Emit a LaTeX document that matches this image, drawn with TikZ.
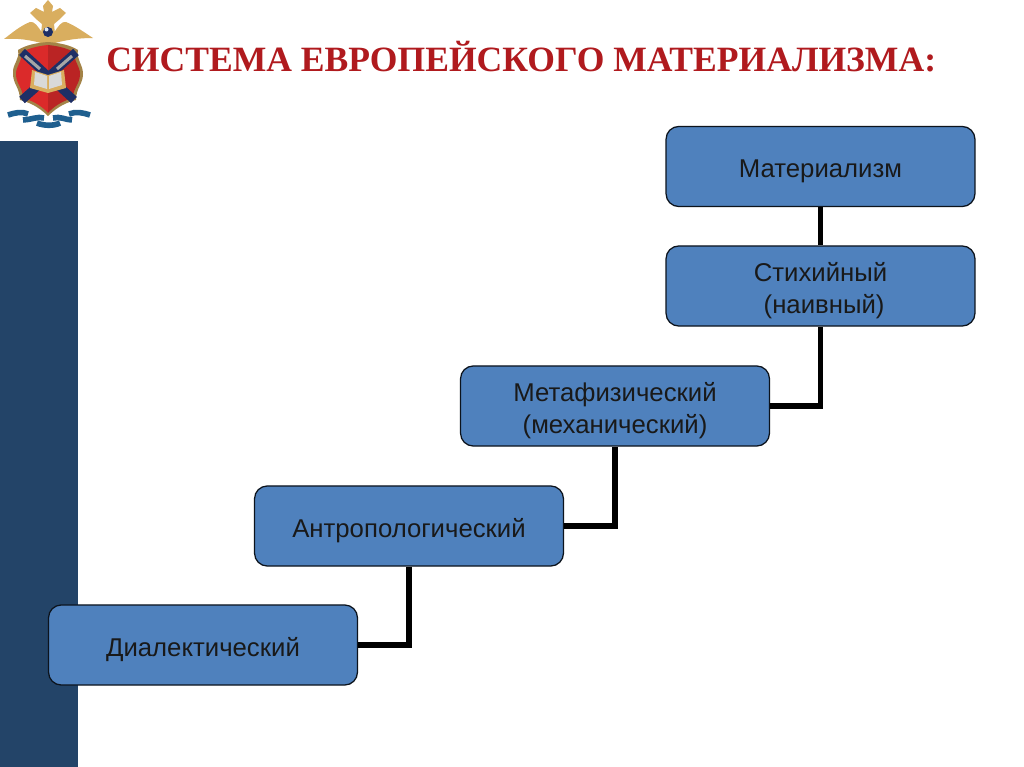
\documentclass[tikz,border=0pt]{standalone}
\usepackage{fontspec}
\setmainfont{Liberation Sans}
\newfontfamily\titlefont{Liberation Serif}
\usepackage{xcolor}
\usetikzlibrary{positioning,calc}
\definecolor{boxblue}{HTML}{4F81BD}
\definecolor{barblue}{HTML}{234468}
\definecolor{titlered}{HTML}{B01A1E}
\definecolor{eaglegold}{HTML}{D9AE5F}
\definecolor{shieldred}{HTML}{DB2A2A}
\definecolor{ribbonblue}{HTML}{1F5F8F}
\definecolor{swordblue}{HTML}{1E2F66}
\newcommand{\lvldown}{\rule{0pt}{20pt}}
\tikzset{
  levelbox/.style={draw=black!85!boxblue, line width=0.9pt, fill=boxblue, rounded corners=9pt,
    minimum width=7.72cm, minimum height=2cm, align=center, font=\fontsize{18.3}{23}\selectfont, text=black!90},
  link/.style={line width=4.2pt, black},
  ribbon/.style={ribbonblue, line width=4pt}
}

\begin{document}
\begin{tikzpicture}[x=0.025cm, y=-0.025cm]
  \useasboundingbox (0,0) rectangle (1024,767);
  \fill[white] (0,0) rectangle (1024,767);
  \fill[barblue] (0,141) rectangle (78,767);

  % emblem: wings, heads, crown
  \fill[eaglegold] (42,33) .. controls (38,26) and (34,21) .. (30,22) .. controls (20,26) and (12,33) .. (4,39) .. controls (18,38) and (30,40) .. (41,43) -- cycle;
  \fill[eaglegold] (54,33) .. controls (58,26) and (62,21) .. (66,22) .. controls (76,26) and (85,33) .. (93,38) .. controls (78,38) and (66,40) .. (55,43) -- cycle;
  \fill[eaglegold] (48,0) -- (53,6) -- (52,12) -- (60,8) -- (66,13) -- (60,19) -- (54,24) -- (56,44) -- (40,44) -- (42,24) -- (36,19) -- (30,13) -- (36,8) -- (44,12) -- (43,6) -- cycle;
  \fill[swordblue] (48,32) circle (5);
  \fill[white!80!boxblue] (46.5,29.5) circle (2);
  % emblem: shield
  \fill[eaglegold!75!black] (48,42) .. controls (36,43) and (26,45) .. (18,50) .. controls (20,60) and (12,64) .. (13,74) .. controls (13,84) and (20,88) .. (20,100) .. controls (28,102) and (38,106) .. (48,116) .. controls (58,106) and (68,102) .. (76,100) .. controls (76,88) and (83,84) .. (83,74) .. controls (83,64) and (76,60) .. (78,50) .. controls (70,45) and (60,43) .. (48,42) -- cycle;
  \fill[shieldred] (48,45) .. controls (38,46) and (30,48) .. (22,52) .. controls (22,62) and (16,66) .. (16,74) .. controls (16,84) and (23,88) .. (23,98) .. controls (30,100) and (40,104) .. (48,113) -- (48,45) -- cycle;
  \fill[shieldred!85!black] (48,45) .. controls (58,46) and (66,48) .. (74,52) .. controls (74,62) and (80,66) .. (80,74) .. controls (80,84) and (73,88) .. (73,98) .. controls (66,100) and (56,104) .. (48,113) -- cycle;
  \draw[swordblue, line width=6pt] (22,52) -- (74,100);
  \draw[swordblue, line width=6pt] (76,52) -- (22,100);
  \draw[black!35, line width=2.2pt] (25,56) -- (40,69);
  \draw[black!35, line width=2.2pt] (72,56) -- (57,69);
  \fill[eaglegold] (32,70) -- (48,75) -- (64,70) -- (66,88) -- (48,93) -- (30,88) -- cycle;
  \fill[white!85!black] (35,72) -- (47,76) -- (47,89) -- (34,85) -- cycle;
  \fill[white!85!black] (61,72) -- (49,76) -- (49,89) -- (62,85) -- cycle;
  % emblem: ribbon
  \draw[ribbon] (8,115) .. controls (14,113) and (22,111) .. (28,114);
  \draw[ribbon] (23,120) .. controls (30,120) and (38,116) .. (44,118);
  \draw[ribbon] (37,123) .. controls (44,126) and (54,126) .. (60,123);
  \draw[ribbon] (53,118) .. controls (60,116) and (66,120) .. (72,120);
  \draw[ribbon] (69,114) .. controls (76,111) and (84,113) .. (90,115);

  % title
  \node[anchor=base west, inner sep=0pt, text=titlered] (title) at (106,72)
    {\titlefont\fontsize{25.3}{30}\selectfont\bfseries СИСТЕМА ЕВРОПЕЙСКОГО МАТЕРИАЛИЗМА:};

  % levels
  \node[levelbox] (mater) at (820.5,166.5) {\lvldown Материализм};
  \node[levelbox] (naive) at (820.5,286) {\lvldown Стихийный\\~(наивный)};
  \node[levelbox] (metaf) at (615,406) {\lvldown Метафизический\\(механический)};
  \node[levelbox] (anthr) at (409,526) {\lvldown Антропологический};
  \node[levelbox] (dial) at (203,645) {\lvldown Диалектический};

  % links
  \draw[link] (mater) -- (naive);
  \draw[link] (naive) |- (metaf);
  \draw[link] (metaf) |- (anthr);
  \draw[link] (anthr) |- (dial);
\end{tikzpicture}
\end{document}
